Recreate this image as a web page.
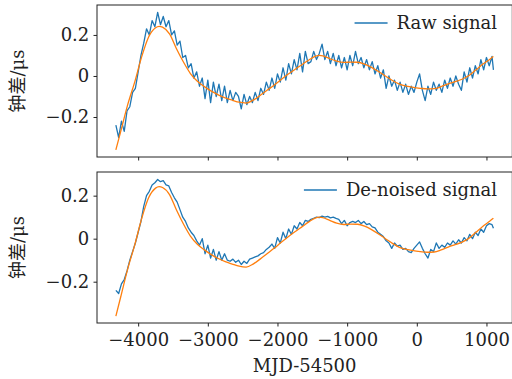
<!DOCTYPE html>
<html lang="zh">
  <head>
    <meta charset="UTF-8" />
    <title>Clock offset</title>
    <style>
      body {
        margin: 0;
        background: #fff;
      }

      .spine {
        fill: none;
        stroke: #222;
        stroke-width: 1px;
      }

      .tick line {
        stroke: #222;
      }

      .raw {
        fill: none;
        stroke: #1f77b4;
        stroke-width: 1.3px;
        stroke-linejoin: round;
      }

      .fit {
        fill: none;
        stroke: #ff7f0e;
        stroke-width: 1.3px;
      }
    </style>
  </head>

  <body>
    <script src="https://d3js.org/d3.v7.min.js"></script>
    <script>
      /* global d3 */

      // MJD-54500 sample epochs (days)
      const mjd = [
        -4320, -4280, -4240, -4200, -4160, -4120, -4080, -4040, -4000, -3960,
        -3920, -3880, -3840, -3800, -3760, -3720, -3680, -3640, -3600, -3560,
        -3520, -3480, -3440, -3400, -3360, -3320, -3280, -3240, -3200, -3160,
        -3120, -3080, -3040, -3000, -2960, -2920, -2880, -2840, -2800, -2760,
        -2720, -2680, -2640, -2600, -2560, -2520, -2480, -2440, -2400, -2360,
        -2320, -2280, -2240, -2200, -2160, -2120, -2080, -2040, -2000, -1960,
        -1920, -1880, -1840, -1800, -1760, -1720, -1680, -1640, -1600, -1560,
        -1520, -1480, -1440, -1400, -1360, -1320, -1280, -1240, -1200, -1160,
        -1120, -1080, -1040, -1000, -960, -920, -880, -840, -800, -760,
        -720, -680, -640, -600, -560, -520, -480, -440, -400, -360,
        -320, -280, -240, -200, -160, -120, -80, -40, 0, 40,
        80, 120, 160, 200, 240, 280, 320, 360, 400, 440,
        480, 520, 560, 600, 640, 680, 720, 760, 800, 840,
        880, 920, 960, 1000, 1040, 1080, 1100
      ];

      // clock offset, raw (us)
      const rawClock = [
        -0.24, -0.30, -0.22, -0.27, -0.17, -0.15, -0.08, -0.06, 0.02, 0.10,
        0.16, 0.23, 0.20, 0.27, 0.24, 0.31, 0.25, 0.29, 0.24, 0.27,
        0.20, 0.22, 0.15, 0.17, 0.09, 0.10, 0.04, 0.06, -0.01, 0.02,
        -0.05, -0.01, -0.11, -0.02, -0.13, -0.03, -0.10, -0.04, -0.12, -0.05,
        -0.13, -0.07, -0.12, -0.08, -0.10, -0.16, -0.09, -0.14, -0.10, -0.13,
        -0.08, -0.12, -0.06, -0.09, -0.03, -0.07, -0.01, -0.06, 0.01, -0.03,
        0.04, -0.02, 0.06, 0.01, 0.08, 0.03, 0.11, 0.02, 0.12, 0.06,
        0.07, 0.12, 0.08, 0.11, 0.155, 0.08, 0.12, 0.06, 0.11, 0.05,
        0.10, 0.04, 0.09, 0.03, 0.10, 0.05, 0.12, 0.06, 0.09, 0.04,
        0.08, 0.03, 0.07, 0.01, 0.05, -0.01, 0.03, -0.06, 0.0, -0.05,
        -0.02, -0.07, -0.03, -0.08, -0.04, -0.09, -0.05, -0.08, -0.03, 0.01,
        -0.07, -0.12, -0.05, -0.09, -0.03, -0.07, -0.04, -0.08, -0.02, -0.06,
        -0.01, -0.05, 0.0, -0.04, -0.07, 0.02, -0.03, 0.04, -0.01, 0.05,
        0.01, 0.08, 0.03, 0.09, 0.05, 0.095, 0.03
      ];

      // clock offset, de-noised (us)
      const denoisedClock = [
        -0.24, -0.255, -0.21, -0.19, -0.15, -0.10, -0.06, -0.02, 0.03, 0.08,
        0.15, 0.20, 0.22, 0.25, 0.26, 0.275, 0.265, 0.27, 0.25, 0.245,
        0.215, 0.19, 0.17, 0.135, 0.10, 0.08, 0.05, 0.03, 0.015, -0.01,
        -0.03, 0.0, -0.07, -0.03, -0.09, -0.05, -0.10, -0.06, -0.10, -0.07,
        -0.10, -0.105, -0.095, -0.11, -0.10, -0.12, -0.105, -0.115, -0.095, -0.09,
        -0.085, -0.08, -0.07, -0.065, -0.05, -0.04, -0.025, -0.045, 0.005, -0.02,
        0.03, 0.0, 0.045, 0.02, 0.06, 0.045, 0.075, 0.06, 0.085, 0.08,
        0.09, 0.095, 0.10, 0.098, 0.105, 0.10, 0.104, 0.097, 0.10, 0.094,
        0.09, 0.07, 0.085, 0.06, 0.075, 0.08, 0.075, 0.085, 0.07, 0.08,
        0.065, 0.07, 0.055, 0.05, 0.03, 0.02, 0.01, -0.01, -0.02, -0.045,
        -0.02, -0.035, -0.03, -0.05, -0.045, -0.06, -0.065, -0.045, -0.03, -0.015,
        -0.045, -0.07, -0.09, -0.05, -0.06, -0.02, -0.045, -0.03, -0.04, -0.02,
        -0.03, -0.01, -0.025, -0.005, -0.02, 0.005, -0.01, 0.02, 0.0, 0.03,
        0.015, 0.045, 0.03, 0.06, 0.07, 0.065, 0.048
      ];

      // smooth model (orange)
      const fitMjd = [
        -4320, -4250, -4150, -4050, -3950, -3850, -3750, -3700, -3650, -3550,
        -3450, -3350, -3250, -3150, -3050, -2950, -2850, -2750, -2650, -2550,
        -2450, -2350, -2250, -2150, -2050, -1950, -1850, -1750, -1650, -1550,
        -1450, -1400, -1350, -1250, -1150, -1050, -950, -850, -750, -650,
        -550, -450, -350, -250, -150, -50, 50, 150, 250, 350,
        450, 550, 650, 750, 850, 950, 1050, 1100
      ];
      const fitClock = [
        -0.36, -0.27, -0.14, -0.03, 0.093, 0.19, 0.235, 0.242, 0.238, 0.205,
        0.133, 0.068, 0.012, -0.026, -0.052, -0.074, -0.092, -0.107, -0.118, -0.128,
        -0.132, -0.118, -0.095, -0.07, -0.045, -0.018, 0.008, 0.032, 0.055, 0.078,
        0.097, 0.1, 0.098, 0.085, 0.072, 0.066, 0.068, 0.067, 0.058, 0.042,
        0.022, 0.0, -0.022, -0.04, -0.05, -0.056, -0.06, -0.063, -0.062, -0.052,
        -0.039, -0.028, -0.016, 0.002, 0.03, 0.058, 0.082, 0.095
      ];

      const xTicks = [-4000, -3000, -2000, -1000, 0, 1000];
      const yTicks = [-0.2, 0, 0.2];

      const width = 512,
        height = 379;
      const left = 97,
        right = 512.3;
      const font = "'DejaVu Serif', 'Noto Sans CJK SC'";
      const fontSize = "18px";

      const minus = function(d) {
        return d < 0 ? "\u2212" + Math.abs(d) : String(d);
      };

      const svg = d3
        .select("body")
        .append("svg")
        .attr("width", width)
        .attr("height", height);

      const x = d3
        .scaleLinear()
        .domain([-4591, 1371])
        .range([left, right]);

      const panels = [
        {
          top: 5,
          bottom: 157,
          yDomain: [-0.395, 0.346],
          values: rawClock,
          label: "Raw signal",
          xLabels: false
        },
        {
          top: 172,
          bottom: 323,
          yDomain: [-0.392, 0.31],
          values: denoisedClock,
          label: "De-noised signal",
          xLabels: true
        }
      ];

      panels.forEach(function(p) {
        const y = d3
          .scaleLinear()
          .domain(p.yDomain)
          .range([p.bottom, p.top]);

        const g = svg.append("g");

        const line = d3
          .line()
          .x(function(d) {
            return x(d[0]);
          })
          .y(function(d) {
            return y(d[1]);
          });

        g.append("path")
          .attr("class", "raw")
          .attr("d", line(d3.zip(mjd, p.values)));

        g.append("path")
          .attr("class", "fit")
          .attr("d", line.curve(d3.curveMonotoneX)(d3.zip(fitMjd, fitClock)));

        g.append("rect")
          .attr("class", "spine")
          .attr("x", left)
          .attr("y", p.top)
          .attr("width", right - left)
          .attr("height", p.bottom - p.top);

        g.append("g")
          .attr("transform", "translate(0," + p.bottom + ")")
          .call(
            d3
              .axisBottom(x)
              .tickValues(xTicks)
              .tickSize(3.5)
              .tickPadding(6.8)
              .tickFormat(p.xLabels ? minus : "")
          )
          .call(function(a) {
            a.select(".domain").remove();
          });

        g.append("g")
          .attr("transform", "translate(" + left + ",0)")
          .call(
            d3
              .axisLeft(y)
              .tickValues(yTicks)
              .tickSize(3.5)
              .tickPadding(4.2)
              .tickFormat(minus)
          )
          .call(function(a) {
            a.select(".domain").remove();
          });

        g.append("text")
          .attr(
            "transform",
            "translate(17.5," + (p.top + p.bottom) / 2 + ") rotate(-90)"
          )
          .attr("text-anchor", "middle")
          .attr("dy", "0.35em")
          .text("钟差/μs");

        // legend, anchored at the top right
        const legendText = g
          .append("text")
          .attr("x", 497)
          .attr("y", p.top + 23.5)
          .attr("text-anchor", "end")
          .style("font-family", font)
          .style("font-size", fontSize)
          .text(p.label);
        const start = 497 - legendText.node().getComputedTextLength();
        g.append("line")
          .attr("x1", start - 42)
          .attr("x2", start - 9)
          .attr("y1", p.top + 18)
          .attr("y2", p.top + 18)
          .attr("stroke", "#1f77b4")
          .attr("stroke-width", 1.3);
      });

      svg
        .append("text")
        .attr("x", (left + right) / 2)
        .attr("y", 372)
        .attr("text-anchor", "middle")
        .text("MJD-54500");

      svg
        .selectAll("text")
        .style("font-family", font)
        .style("font-size", fontSize)
        .style("fill", "#222");
    </script>
  </body>
</html>
